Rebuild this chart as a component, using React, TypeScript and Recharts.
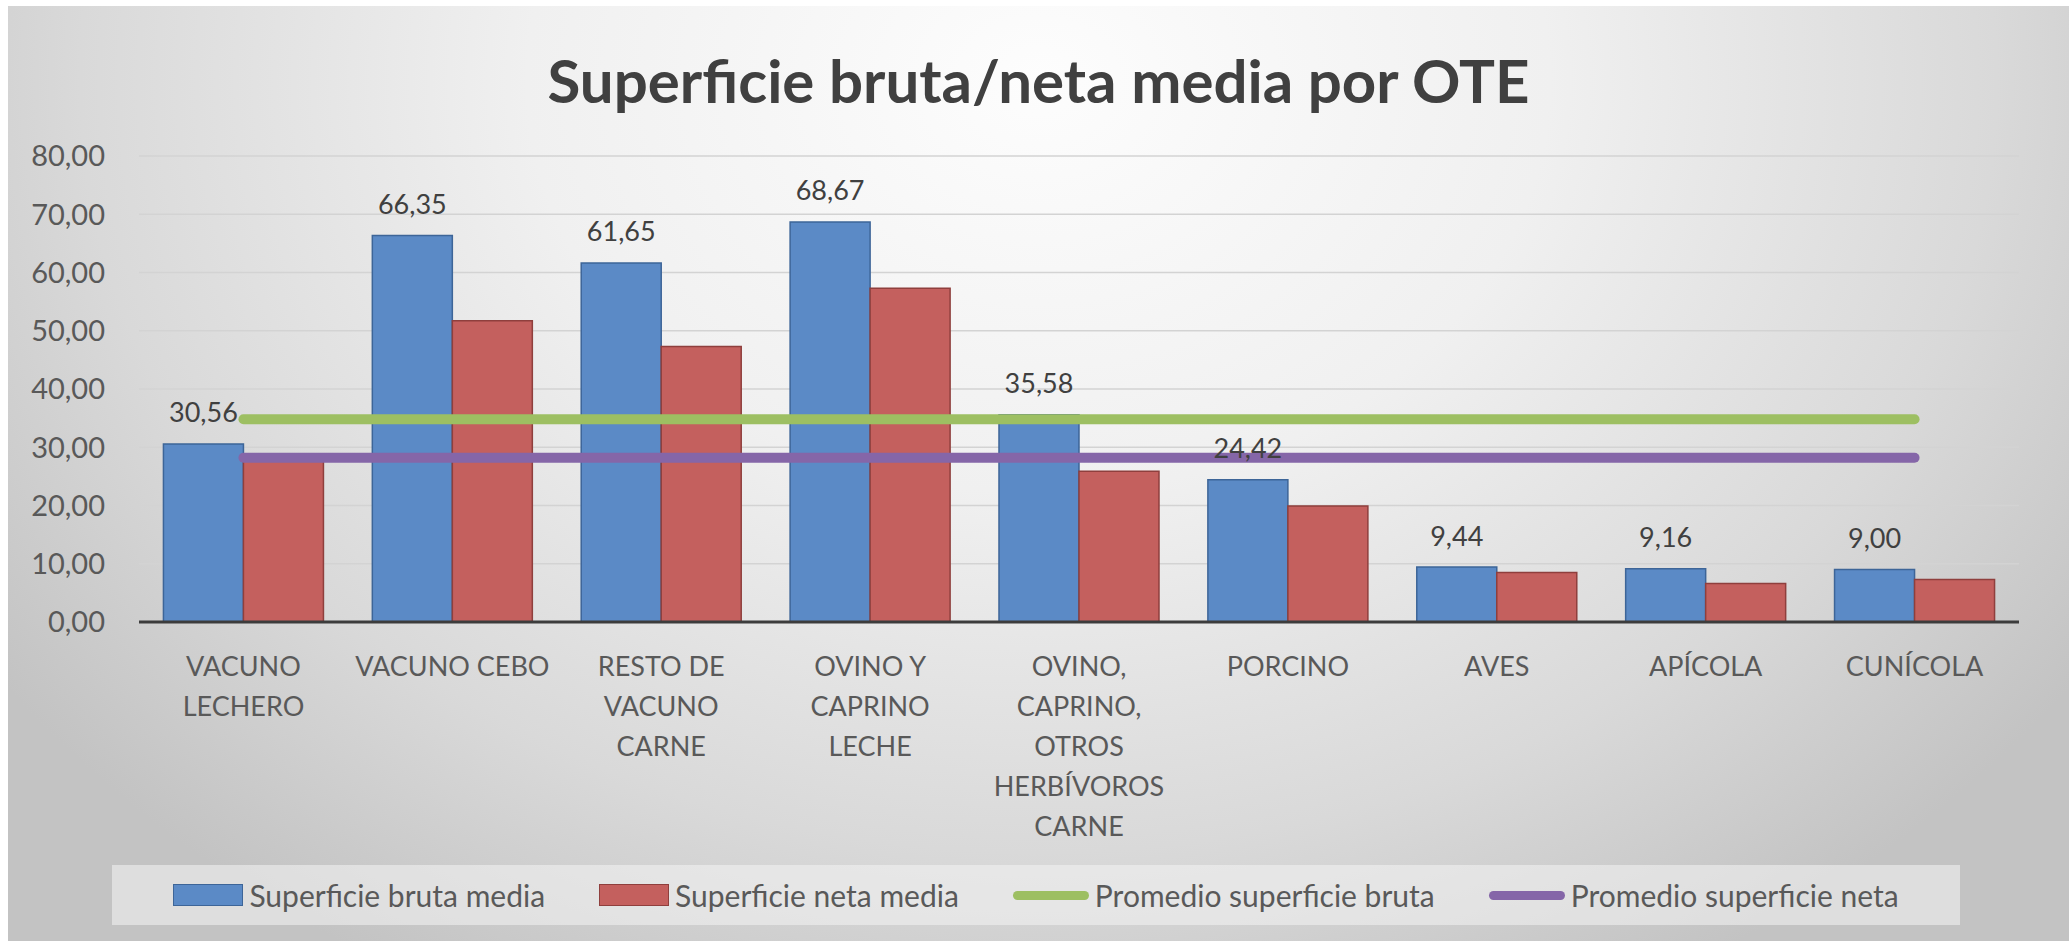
import {
  ComposedChart,
  Bar,
  Line,
  XAxis,
  YAxis,
  CartesianGrid,
  LabelList,
  Legend,
} from "recharts"

const categories = [
  "VACUNO LECHERO",
  "VACUNO CEBO",
  "RESTO DE VACUNO CARNE",
  "OVINO Y CAPRINO LECHE",
  "OVINO, CAPRINO, OTROS HERBÍVOROS CARNE",
  "PORCINO",
  "AVES",
  "APÍCOLA",
  "CUNÍCOLA",
]
const brutaMedia = [30.56, 66.35, 61.65, 68.67, 35.58, 24.42, 9.44, 9.16, 9.0]
const netaMedia = [28.7, 51.7, 47.3, 57.3, 25.9, 19.9, 8.5, 6.6, 7.3]
const promedioBruta = [34.8, 34.8, 34.8, 34.8, 34.8, 34.8, 34.8, 34.8, 34.8]
const promedioNeta = [28.2, 28.2, 28.2, 28.2, 28.2, 28.2, 28.2, 28.2, 28.2]
const yTicks = [0, 10, 20, 30, 40, 50, 60, 70, 80]

const data = categories.map((name, i) => ({
  name,
  bruta: brutaMedia[i],
  neta: netaMedia[i],
  promBruta: promedioBruta[i],
  promNeta: promedioNeta[i],
}))

const FONT = "Lato, 'Open Sans', sans-serif"
const TEXT = "#595959"
const BLUE = "#5b8ac6"
const RED = "#c4605e"
const GREEN = "#9dbf62"
const PURPLE = "#8566a8"

const fmt = (v: number) => v.toFixed(2).replace(".", ",")

// greedy wrap, roughly like excel does for the category labels
function wrap(text: string, max = 11) {
  const lines: string[] = []
  let cur = ""
  for (const w of text.split(" ")) {
    const next = cur ? cur + " " + w : w
    if (next.length > max && cur) {
      lines.push(cur)
      cur = w
    } else cur = next
  }
  if (cur) lines.push(cur)
  return lines
}

function CategoryTick({ x, y, payload }: { x?: number; y?: number; payload?: { value: string } }) {
  const lines = wrap(payload?.value ?? "")
  return (
    <text x={x} y={y} textAnchor="middle" fill={TEXT} fontSize={27} fontFamily={FONT}>
      {lines.map((l, i) => (
        <tspan key={i} x={x} dy={i === 0 ? 52 : 40}>
          {l}
        </tspan>
      ))}
    </text>
  )
}

function ValueLabel(p: any) {
  const { x, y, width, value } = p
  return (
    <text
      x={x + width / 2}
      y={y - 32}
      textAnchor="middle"
      dominantBaseline="central"
      fill="#404040"
      fontSize={27}
      fontFamily={FONT}
    >
      {fmt(value)}
    </text>
  )
}

const legendItems = [
  { label: "Superficie bruta media", color: BLUE, border: "#3d6598", kind: "bar" },
  { label: "Superficie neta media", color: RED, border: "#8f3f3d", kind: "bar" },
  { label: "Promedio superficie bruta", color: GREEN, border: GREEN, kind: "line" },
  { label: "Promedio superficie neta", color: PURPLE, border: PURPLE, kind: "line" },
]

function LegendBox() {
  return (
    <div
      style={{
        width: "100%",
        height: 60,
        background: "rgba(244,244,244,0.55)",
        display: "flex",
        alignItems: "center",
        justifyContent: "center",
        gap: 54,
        fontFamily: FONT,
        fontSize: 30,
        color: TEXT,
      }}
    >
      {legendItems.map((it) => (
        <div key={it.label} style={{ display: "flex", alignItems: "center", gap: 6 }}>
          {it.kind === "bar" ? (
            <span
              style={{
                width: 70,
                height: 22,
                background: it.color,
                border: `1.5px solid ${it.border}`,
                boxSizing: "border-box",
              }}
            />
          ) : (
            <span style={{ width: 76, height: 9, background: it.color, borderRadius: 5 }} />
          )}
          <span>{it.label}</span>
        </div>
      ))}
    </div>
  )
}

export default function App() {
  return (
    <div
      style={{
        position: "absolute",
        left: 8,
        top: 6,
        width: 2061,
        height: 935,
        background:
          "radial-gradient(ellipse 62% 110% at 50% 8%, #fdfdfd 0%, #f0f0f0 40%, #d9d9d9 75%, #c3c3c3 100%)",
      }}
    >
      <div
        style={{
          position: "absolute",
          top: 39,
          left: 0,
          width: "100%",
          textAlign: "center",
          fontFamily: FONT,
          fontWeight: 700,
          fontSize: 60,
          lineHeight: "70px",
          color: "#404040",
        }}
      >
        Superficie bruta/neta media por OTE
      </div>
      <ComposedChart
        width={2061}
        height={935}
        data={data}
        margin={{ top: 150, right: 50, bottom: 119, left: 0 }}
        barCategoryGap="11.7%"
        barGap={0}
      >
        <CartesianGrid vertical={false} stroke="#d3d3d3" strokeWidth={1.5} />
        <XAxis
          dataKey="name"
          height={200}
          interval={0}
          tick={<CategoryTick />}
          tickLine={false}
          tickSize={0}
          axisLine={{ stroke: "#3c3c3c", strokeWidth: 3 }}
        />
        <YAxis
          width={131}
          domain={[0, 80]}
          ticks={yTicks}
          tickFormatter={fmt}
          axisLine={false}
          tickLine={false}
          tickSize={0}
          tickMargin={34}
          tick={{ fill: TEXT, fontSize: 29, fontFamily: FONT }}
        />
        <Legend
          verticalAlign="middle"
          align="center"
          layout="horizontal"
          wrapperStyle={{ left: 104, top: 859, width: 1848, height: 60 }}
          content={<LegendBox />}
        />
        <Bar dataKey="bruta" fill={BLUE} stroke="#3d6598" strokeWidth={1.5} isAnimationActive={false}>
          <LabelList dataKey="bruta" content={ValueLabel} />
        </Bar>
        <Bar dataKey="neta" fill={RED} stroke="#8f3f3d" strokeWidth={1.5} isAnimationActive={false} />
        <Line
          dataKey="promBruta"
          stroke={GREEN}
          strokeWidth={10}
          strokeLinecap="round"
          dot={false}
          activeDot={false}
          isAnimationActive={false}
        />
        <Line
          dataKey="promNeta"
          stroke={PURPLE}
          strokeWidth={10}
          strokeLinecap="round"
          dot={false}
          activeDot={false}
          isAnimationActive={false}
        />
      </ComposedChart>
    </div>
  )
}
